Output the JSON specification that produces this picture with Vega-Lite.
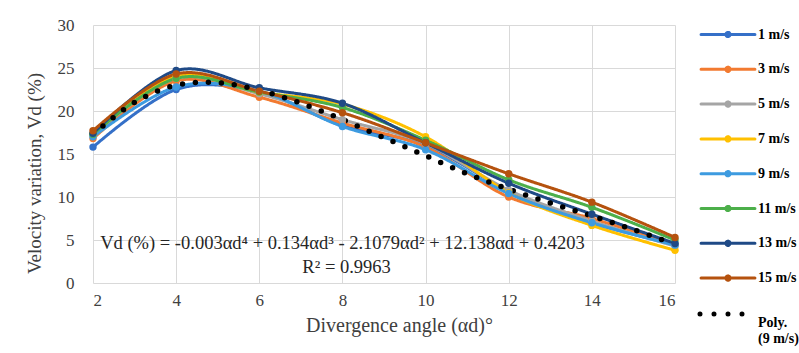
{
  "$schema": "https://vega.github.io/schema/vega-lite/v6.json",
  "width": 582,
  "height": 258,
  "autosize": "none",
  "padding": {"left": 93, "top": 25, "right": 124, "bottom": 70},
  "background": "white",
  "config": {
    "view": {"stroke": null},
    "font": "Liberation Serif, serif",
    "axis": {
      "labelFont": "Liberation Serif, serif",
      "titleFont": "Liberation Serif, serif",
      "labelColor": "#404040",
      "titleColor": "#404040",
      "labelFontSize": 17,
      "titleFontSize": 19,
      "titleFontWeight": "normal",
      "gridColor": "#d9d9d9",
      "gridWidth": 1,
      "ticks": false,
      "domain": false
    }
  },
  "datasets": {
    "series": [
      {"a": 2, "v": 15.8, "s": "1 m/s"}, {"a": 4, "v": 22.5, "s": "1 m/s"}, {"a": 6, "v": 22.2, "s": "1 m/s"}, {"a": 8, "v": 18.3, "s": "1 m/s"}, {"a": 10, "v": 16.0, "s": "1 m/s"}, {"a": 12, "v": 10.7, "s": "1 m/s"}, {"a": 14, "v": 7.0, "s": "1 m/s"}, {"a": 16, "v": 4.5, "s": "1 m/s"},
      {"a": 2, "v": 16.8, "s": "3 m/s"}, {"a": 4, "v": 23.5, "s": "3 m/s"}, {"a": 6, "v": 21.6, "s": "3 m/s"}, {"a": 8, "v": 18.6, "s": "3 m/s"}, {"a": 10, "v": 15.8, "s": "3 m/s"}, {"a": 12, "v": 10.0, "s": "3 m/s"}, {"a": 14, "v": 7.5, "s": "3 m/s"}, {"a": 16, "v": 4.4, "s": "3 m/s"},
      {"a": 2, "v": 17.2, "s": "5 m/s"}, {"a": 4, "v": 23.8, "s": "5 m/s"}, {"a": 6, "v": 22.0, "s": "5 m/s"}, {"a": 8, "v": 19.0, "s": "5 m/s"}, {"a": 10, "v": 16.2, "s": "5 m/s"}, {"a": 12, "v": 10.8, "s": "5 m/s"}, {"a": 14, "v": 7.2, "s": "5 m/s"}, {"a": 16, "v": 4.3, "s": "5 m/s"},
      {"a": 2, "v": 17.3, "s": "7 m/s"}, {"a": 4, "v": 24.0, "s": "7 m/s"}, {"a": 6, "v": 22.2, "s": "7 m/s"}, {"a": 8, "v": 20.8, "s": "7 m/s"}, {"a": 10, "v": 17.0, "s": "7 m/s"}, {"a": 12, "v": 10.5, "s": "7 m/s"}, {"a": 14, "v": 6.7, "s": "7 m/s"}, {"a": 16, "v": 3.8, "s": "7 m/s"},
      {"a": 2, "v": 17.0, "s": "9 m/s"}, {"a": 4, "v": 22.8, "s": "9 m/s"}, {"a": 6, "v": 22.3, "s": "9 m/s"}, {"a": 8, "v": 18.2, "s": "9 m/s"}, {"a": 10, "v": 15.5, "s": "9 m/s"}, {"a": 12, "v": 10.4, "s": "9 m/s"}, {"a": 14, "v": 7.0, "s": "9 m/s"}, {"a": 16, "v": 4.4, "s": "9 m/s"},
      {"a": 2, "v": 17.3, "s": "11 m/s"}, {"a": 4, "v": 23.8, "s": "11 m/s"}, {"a": 6, "v": 22.2, "s": "11 m/s"}, {"a": 8, "v": 20.4, "s": "11 m/s"}, {"a": 10, "v": 16.6, "s": "11 m/s"}, {"a": 12, "v": 12.0, "s": "11 m/s"}, {"a": 14, "v": 8.8, "s": "11 m/s"}, {"a": 16, "v": 5.0, "s": "11 m/s"},
      {"a": 2, "v": 17.4, "s": "13 m/s"}, {"a": 4, "v": 24.7, "s": "13 m/s"}, {"a": 6, "v": 22.7, "s": "13 m/s"}, {"a": 8, "v": 20.9, "s": "13 m/s"}, {"a": 10, "v": 16.3, "s": "13 m/s"}, {"a": 12, "v": 11.6, "s": "13 m/s"}, {"a": 14, "v": 8.0, "s": "13 m/s"}, {"a": 16, "v": 4.6, "s": "13 m/s"},
      {"a": 2, "v": 17.7, "s": "15 m/s"}, {"a": 4, "v": 24.3, "s": "15 m/s"}, {"a": 6, "v": 22.3, "s": "15 m/s"}, {"a": 8, "v": 19.8, "s": "15 m/s"}, {"a": 10, "v": 16.3, "s": "15 m/s"}, {"a": 12, "v": 12.7, "s": "15 m/s"}, {"a": 14, "v": 9.4, "s": "15 m/s"}, {"a": 16, "v": 5.3, "s": "15 m/s"},
      {"a": 2, "v": 17.3, "s": "Poly."}, {"a": 3, "v": 21.0, "s": "Poly."}, {"a": 4, "v": 23.0, "s": "Poly."}, {"a": 5, "v": 23.3, "s": "Poly."}, {"a": 6, "v": 22.4, "s": "Poly."}, {"a": 7, "v": 20.9, "s": "Poly."}, {"a": 8, "v": 19.0, "s": "Poly."}, {"a": 9, "v": 16.9, "s": "Poly."}, {"a": 10, "v": 14.8, "s": "Poly."}, {"a": 11, "v": 12.7, "s": "Poly."}, {"a": 12, "v": 10.9, "s": "Poly."}, {"a": 13, "v": 9.3, "s": "Poly."}, {"a": 14, "v": 7.8, "s": "Poly."}, {"a": 15, "v": 6.2, "s": "Poly."}, {"a": 16, "v": 4.5, "s": "Poly."}
    ],
    "notes": [
      {"t": "Vd (%) = -0.003αd⁴ + 0.134αd³ - 2.1079αd² + 12.138αd + 0.4203"},
      {"t": "R² = 0.9963"}
    ]
  },
  "layer": [
    {
      "data": {"name": "series"},
      "mark": {"type": "line", "interpolate": "cardinal", "strokeCap": "round", "strokeJoin": "round"},
      "encoding": {
        "x": {
          "field": "a", "type": "quantitative",
          "scale": {"domain": [2, 16], "nice": false, "zero": false},
          "axis": {"values": [2, 4, 6, 8, 10, 12, 14, 16], "title": "Divergence angle (αd)°", "labelPadding": 9, "titlePadding": 7, "titleFontSize": 20, "titleX": 306}
        },
        "y": {
          "field": "v", "type": "quantitative",
          "scale": {"domain": [0, 30], "nice": false},
          "axis": {"values": [0, 5, 10, 15, 20, 25, 30], "title": "Velocity variation, Vd (%)", "labelPadding": 19, "titlePadding": 13, "titleY": 148}
        },
        "color": {
          "field": "s", "type": "nominal", "sort": null,
          "scale": {
            "domain": ["1 m/s", "3 m/s", "5 m/s", "7 m/s", "9 m/s", "11 m/s", "13 m/s", "15 m/s", "Poly."],
            "range": ["#3570c8", "#f27a30", "#a5a5a5", "#ffc000", "#3d9be0", "#4caf4a", "#1f4a86", "#b5520e", "#000000"]
          },
          "legend": {
            "title": null,
            "orient": "none",
            "legendX": 628,
            "legendY": 2.5,
            "symbolType": "M-7.7,0H7.7M-0.6,0A0.6,0.6 0 1,0 0.6,0A0.6,0.6 0 1,0 -0.6,0",
            "symbolSize": 49,
            "symbolStrokeWidth": 3,
            "labelOffset": 23,
            "labelFont": "Liberation Serif, serif",
            "labelFontWeight": "bold",
            "labelFontSize": 14,
            "labelColor": "#000000",
            "rowPadding": 16.8,
            "labelExpr": "datum.label === 'Poly.' ? ['Poly.', '(9 m/s)'] : datum.label",
            "encode": {
              "symbols": {
                "update": {
                  "shape": {"signal": "datum.value === 'Poly.' ? 'M-8,0H8' : 'M-7.7,0H7.7M-0.6,0A0.6,0.6 0 1,0 0.6,0A0.6,0.6 0 1,0 -0.6,0'"},
                  "strokeDash": {"signal": "datum.value === 'Poly.' ? [0, 14] : [1, 0]"},
                  "strokeWidth": {"signal": "datum.value === 'Poly.' ? 5 : 3"},
                  "strokeCap": {"value": "round"}
                }
              },
              "labels": {
                "update": {
                  "dy": {"signal": "datum.label === 'Poly.' ? 9 : 0"}
                }
              }
            }
          }
        },
        "strokeWidth": {"condition": {"test": "datum.s === 'Poly.'", "value": 5.5}, "value": 3},
        "strokeDash": {"condition": {"test": "datum.s === 'Poly.'", "value": [0, 13]}, "value": [1, 0]}
      }
    },
    {
      "data": {"name": "series"},
      "transform": [{"filter": "datum.s !== 'Poly.'"}],
      "mark": {"type": "point", "filled": true, "opacity": 1, "size": 55},
      "encoding": {
        "x": {"field": "a", "type": "quantitative"},
        "y": {"field": "v", "type": "quantitative"},
        "color": {"field": "s", "type": "nominal", "legend": null}
      }
    },
    {
      "data": {"name": "notes"},
      "transform": [{"filter": "datum.t !== 'R² = 0.9963'"}],
      "mark": {"type": "text", "font": "Liberation Serif, serif", "fontSize": 18.5, "color": "#262626", "align": "center", "baseline": "middle"},
      "encoding": {
        "x": {"datum": 8},
        "y": {"datum": 4.6},
        "text": {"field": "t"}
      }
    },
    {
      "data": {"name": "notes"},
      "transform": [{"filter": "datum.t === 'R² = 0.9963'"}],
      "mark": {"type": "text", "font": "Liberation Serif, serif", "fontSize": 18.5, "color": "#262626", "align": "center", "baseline": "middle"},
      "encoding": {
        "x": {"datum": 8.1},
        "y": {"datum": 1.85},
        "text": {"field": "t"}
      }
    }
  ]
}
